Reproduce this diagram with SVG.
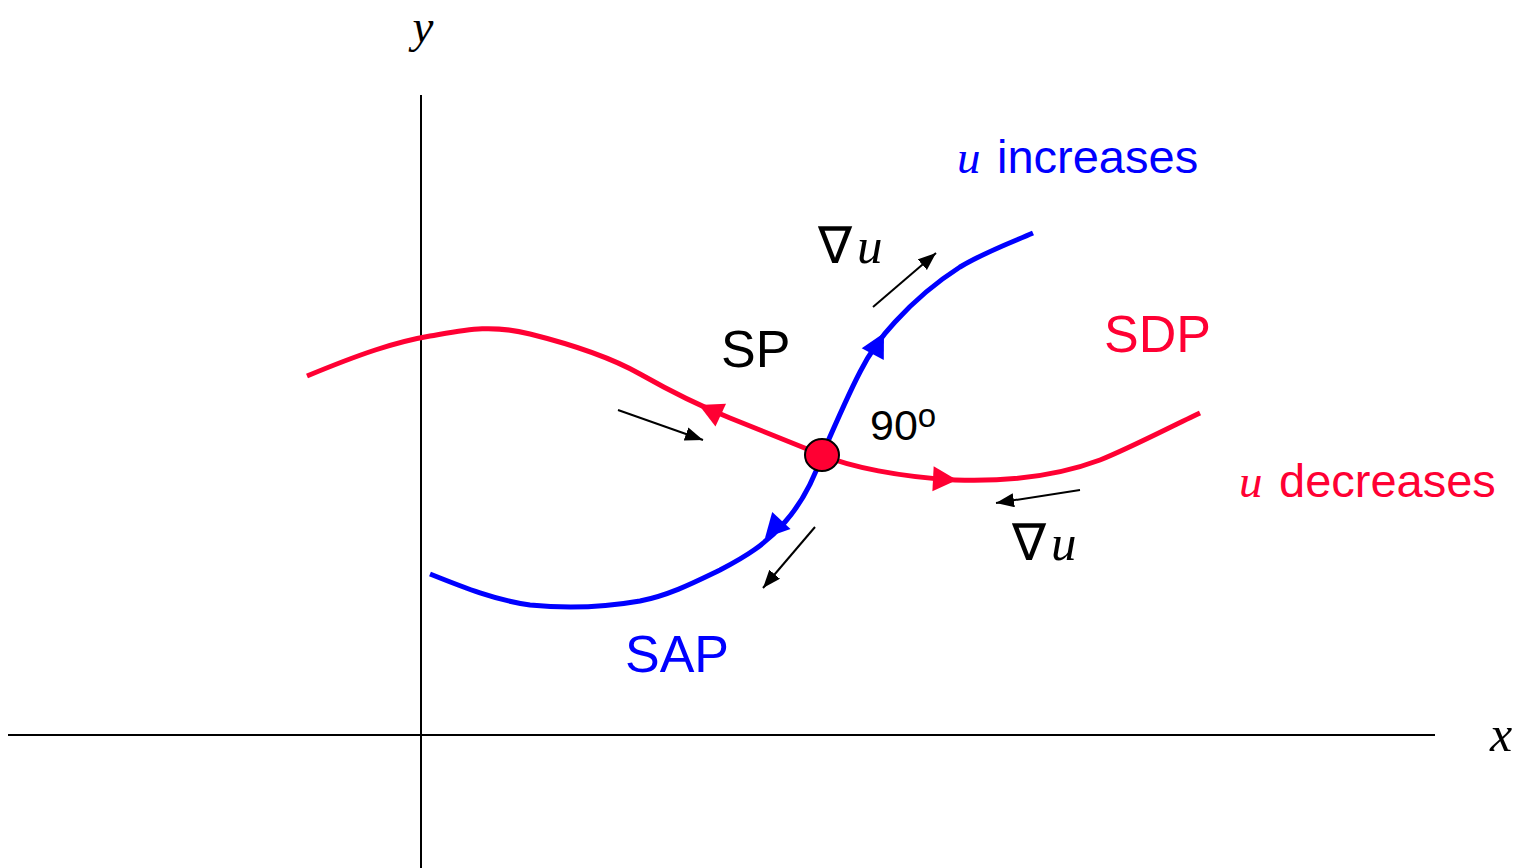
<svg xmlns="http://www.w3.org/2000/svg" width="1525" height="868" viewBox="0 0 1525 868">
<style>
.axis{stroke:#000;stroke-width:2;fill:none}
.red{stroke:#FF0033;stroke-width:5;fill:none}
.blue{stroke:#0000FF;stroke-width:5;fill:none}
.grad{stroke:#000;stroke-width:2;fill:none;marker-end:url(#ba)}
.sans{font-family:"Liberation Sans",Arial,sans-serif}
.math{font-family:"Liberation Serif","Times New Roman",serif}
.it{font-style:italic}
</style>
<defs>
<marker id="ba" markerUnits="userSpaceOnUse" markerWidth="20" markerHeight="16" refX="18" refY="7" orient="auto"><path d="M0,0 L18,7 L0,14 Z" fill="#000"/></marker>
<path id="ah" d="M0,0 L-24,-12.5 L-24,12.5 Z"/>
</defs>
<rect width="1525" height="868" fill="#fff"/>
<g id="axes">
<line class="axis" x1="421" y1="95" x2="421" y2="868"/>
<line class="axis" x1="8" y1="735" x2="1435" y2="735"/>
<text class="math it" x="423" y="42" font-size="47" text-anchor="middle">y</text>
<text class="math it" x="1501" y="751" font-size="50" text-anchor="middle">x</text>
</g>
<g id="connectors">
<path id="sdp-curve" class="red" d="M307,376 C360,354 395,342 430,336 C465,330 490,324 530,334 C570,344 610,357 640,374 C670,391 700,406 730,418 L822,455 C850,467 900,477 955,480 C1010,482 1060,475 1100,460 C1130,448 1170,427 1200,413"/>
<use href="#ah" fill="#FF0033" transform="translate(699,405) rotate(205)"/>
<use href="#ah" fill="#FF0033" transform="translate(957,480) rotate(3)"/>
<path id="sap-curve" class="blue" d="M430,574 C465,588 495,600 530,605 C560,608 600,608 640,601 C670,595 695,582 720,570 C745,557 765,545 785,522 C800,505 812,485 822,455 C835,425 848,395 860,372 C870,352 880,338 895,322 C915,300 935,283 960,267 C985,252 1010,243 1033,233"/>
<use href="#ah" fill="#0000FF" transform="translate(884,333) rotate(-62)"/>
<use href="#ah" fill="#0000FF" transform="translate(765,538) rotate(133)"/>
<path class="grad" d="M873,307 L936,253"/>
<path class="grad" d="M618,410 L703,440"/>
<path class="grad" d="M815,527 L763,588"/>
<path class="grad" d="M1080,490 L996,503"/>
</g>
<g id="sp">
<ellipse cx="822" cy="455" rx="17" ry="16" fill="#FF0033" stroke="#000" stroke-width="2"/>
<text class="sans" x="721" y="367" font-size="52">SP</text>
<text class="sans" x="870" y="440" font-size="43">90<tspan font-size="33" dy="-13">o</tspan></text>
</g>
<g id="labels">
<text class="math" x="818" y="263" font-size="51">∇<tspan class="it" x="857">u</tspan></text>
<text y="173" font-size="47" fill="#0000FF"><tspan class="math it" x="957">u</tspan><tspan class="sans" x="997">increases</tspan></text>
<text class="sans" x="1104" y="352" font-size="52" fill="#FF0033">SDP</text>
<text y="497" font-size="47" fill="#FF0033"><tspan class="math it" x="1239">u</tspan><tspan class="sans" x="1279">decreases</tspan></text>
<text class="math" x="1012" y="560" font-size="51">∇<tspan class="it" x="1051">u</tspan></text>
<text class="sans" x="625" y="672" font-size="52" fill="#0000FF">SAP</text>
</g>
</svg>
